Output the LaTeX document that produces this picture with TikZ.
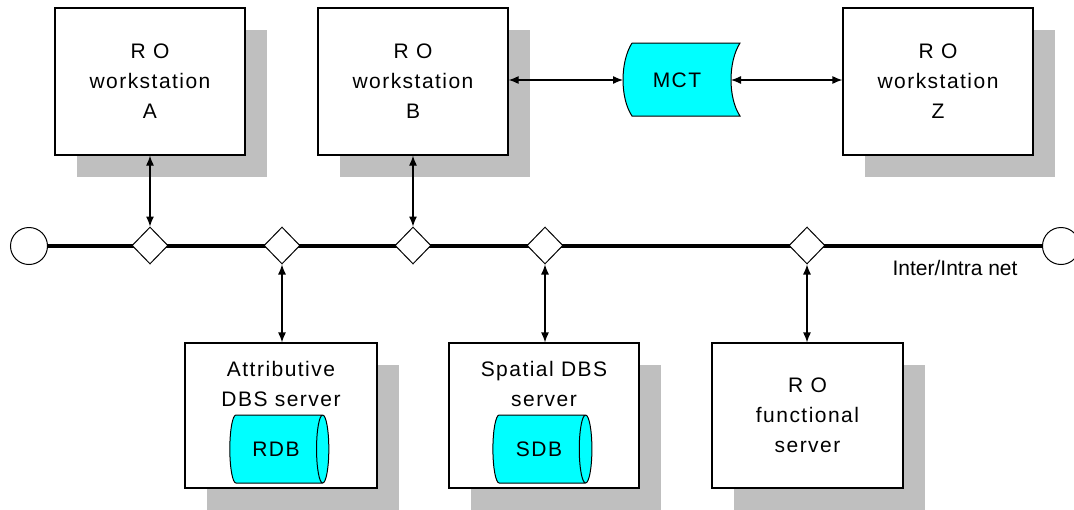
\documentclass[tikz,border=0pt]{standalone}
\usepackage{fontspec}
\setmainfont{Liberation Sans}
\newfontfamily\spaced[LetterSpace=7]{Liberation Sans}
\usepackage{tikz}
\usetikzlibrary{arrows,arrows.meta,positioning,calc,shapes.geometric,shadows}
\definecolor{dbcyan}{RGB}{0,255,255}
\tikzstyle{robox}=[draw,fill=white,line width=1.2pt,minimum width=190pt,minimum height=147pt,inner sep=0pt,align=center,font=\spaced\fontsize{21}{30}\selectfont,general shadow={fill=black!25,shadow xshift=22pt,shadow yshift=-22pt}]
\tikzstyle{hub}=[draw,fill=white,diamond,line width=1pt,minimum width=36pt,minimum height=37pt,inner sep=0pt]
\tikzstyle{term}=[draw,fill=white,circle,line width=1pt,minimum size=37pt,inner sep=0pt]
\tikzstyle{db}=[draw,cylinder,line width=1pt,cylinder uses custom fill,cylinder body fill=dbcyan,cylinder end fill=dbcyan,minimum height=99pt,minimum width=68pt,aspect=0.85,inner sep=0pt,font=\spaced\fontsize{21}{30}\selectfont]
\tikzstyle{link}=[{Latex[length=10pt,width=8pt]}-{Latex[length=10pt,width=8pt]},line width=1.2pt]
\tikzstyle{txt}=[align=center,font=\spaced\fontsize{21}{30}\selectfont]

\begin{document}
\begin{tikzpicture}[x=1pt,y=-1pt]
\useasboundingbox (0,0) rectangle (1074,509);

% workstations
\node [robox] (wsA) at (150,81.5) {R O\\workstation\\A};
\node [robox] (wsB) at (413,81.5) {R O\\workstation\\B};
\node [robox] (wsZ) at (938,81.5) {R O\\workstation\\Z};

% MCT
\draw [fill=dbcyan,line width=1pt] (632,43) -- (740,43) .. controls (728,62) and (728,98) .. (740,116)
  -- (632,116) .. controls (620,98) and (620,62) .. (632,43);
\node [txt] (mct) at (677,80) {MCT};
\coordinate (mctL) at (623,80);
\coordinate (mctR) at (731,80);
\draw [link] (wsB.east |- mctL) -- (mctL);
\draw [link] (mctR) -- (wsZ.west |- mctR);

% network
\node [term] (endL) at (29,246) {};
\node [term] (endR) at (1061,246) {};
\draw [line width=4pt] (endL) -- (endR);
\node [hub] (h1) at (150,245.5) {};
\node [hub] (h2) at (282,245.5) {};
\node [hub] (h3) at (413,245.5) {};
\node [hub] (h4) at (545,245.5) {};
\node [hub] (h5) at (807,245.5) {};
\node [font=\fontsize{21}{25}\selectfont] (net) at (955,268) {Inter/Intra net};

% servers
\node [robox,minimum height=145pt,minimum width=192pt] (attr) at (281,415.5) {};
\node [txt] (attrtxt) at (281,384) {Attributive\\DBS server};
\node [db] (rdb) at (276,449) {RDB};
\node [robox,minimum height=145pt] (spat) at (544,415.5) {};
\node [txt] (spattxt) at (544,384) {Spatial DBS\\server};
\node [db] (sdb) at (539,449) {SDB};
\node [robox,minimum height=145pt,minimum width=191pt] (func) at (807.5,415.5) {R O\\functional\\server};

\draw [link] (wsA) -- (h1);
\draw [link] (wsB) -- (h3);
\draw [link] (h2) -- (h2 |- attr.north);
\draw [link] (h4) -- (h4 |- spat.north);
\draw [link] (h5) -- (h5 |- func.north);
\end{tikzpicture}
\end{document}
